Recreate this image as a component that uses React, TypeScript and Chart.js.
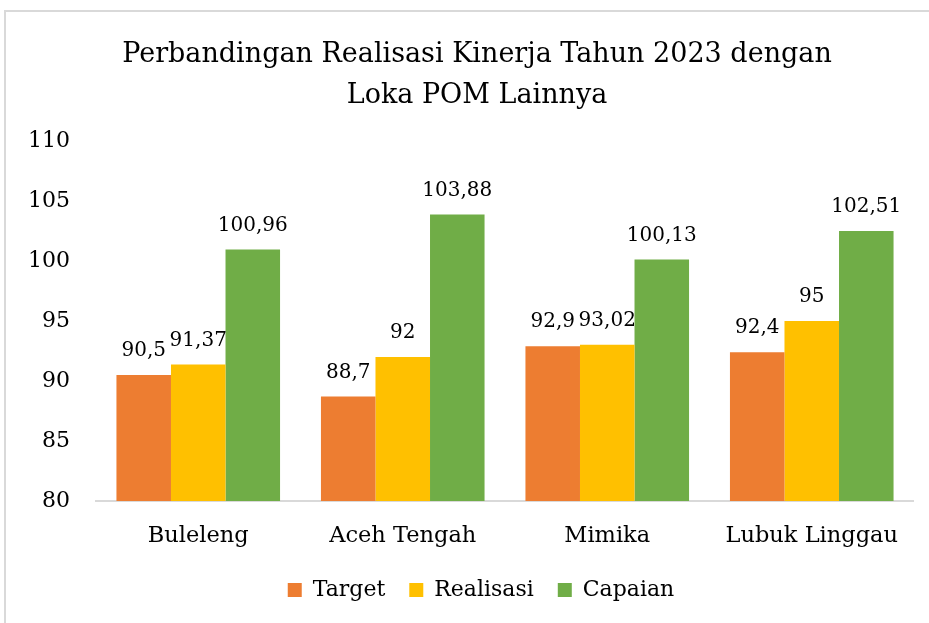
import React, { useEffect, useRef } from "react";
import { Chart, registerables } from "chart.js";

Chart.register(...registerables);

const categories = ["Buleleng", "Aceh Tengah", "Mimika", "Lubuk Linggau"];
const targetValues = [90.5, 88.7, 92.9, 92.4];
const realisasiValues = [91.37, 92, 93.02, 95];
const capaianValues = [100.96, 103.88, 100.13, 102.51];
const titleLines = ["Perbandingan Realisasi Kinerja Tahun 2023 dengan", "Loka POM Lainnya"];

const FONT = "'DejaVu Serif', serif";

const labelPlugin = {
  id: "barValueLabels",
  afterDatasetsDraw(chart: any) {
    const ctx = chart.ctx;
    ctx.save();
    ctx.font = `20px ${FONT}`;
    ctx.fillStyle = "#000";
    ctx.textAlign = "center";
    ctx.textBaseline = "bottom";
    chart.data.datasets.forEach((ds: any, di: number) => {
      const meta = chart.getDatasetMeta(di);
      meta.data.forEach((bar: any, i: number) => {
        const v = ds.data[i];
        const txt = String(v).replace(".", ",");
        ctx.fillText(txt, bar.x, bar.y - 14);
      });
    });
    ctx.restore();
  },
};

// shift the title and legend boxes so they centre on the whole chart frame
const centerPlugin = {
  id: "centerBoxes",
  afterLayout(chart: any) {
    if (chart.titleBlock) chart.titleBlock.left += 35;
    if (chart.legend) chart.legend.left += 43;
  },
};

export default function App() {
  const ref = useRef<HTMLCanvasElement>(null);
  useEffect(() => {
    if (!ref.current) return;
    const chart = new Chart(ref.current, {
      type: "bar",
      data: {
        labels: categories,
        datasets: [
          { label: "Target", data: targetValues, backgroundColor: "#ED7D31" },
          { label: "Realisasi", data: realisasiValues, backgroundColor: "#FFC000" },
          { label: "Capaian", data: capaianValues, backgroundColor: "#70AD47" },
        ],
      },
      options: {
        animation: false,
        responsive: false,
        maintainAspectRatio: false,
        layout: { padding: { left: 0, right: 0, top: 0, bottom: 12 } },
        datasets: { bar: { categoryPercentage: 0.8, barPercentage: 1.0 } } as any,
        plugins: {
          title: {
            display: true,
            text: titleLines,
            color: "#000",
            font: { family: FONT, size: 27, weight: "normal" as any, lineHeight: 1.52 },
            padding: { top: 23, bottom: 25 },
          },
          legend: {
            position: "bottom",
            labels: {
              color: "#000",
              font: { family: FONT, size: 22 },
              boxWidth: 14,
              boxHeight: 14,
              padding: 24,
            },
          },
          tooltip: { enabled: false },
        },
        scales: {
          x: {
            grid: { display: false },
            border: { display: true, color: "#d9d9d9", width: 2 },
            ticks: { color: "#000", font: { family: FONT, size: 22.5 }, padding: 14 },
            afterFit(scale: any) {
              scale.height = scale.height - 9;
            },
          },
          y: {
            min: 80,
            max: 110,
            grid: { display: false },
            border: { display: false },
            ticks: { stepSize: 5, color: "#000", font: { family: FONT, size: 22 }, padding: 18 },
            afterFit(scale: any) {
              scale.width = 91;
            },
          },
        },
      },
      plugins: [labelPlugin, centerPlugin],
    });
    return () => chart.destroy();
  }, []);
  return (
    <div style={{ position: "fixed", left: 0, top: 0, width: 929, height: 623, overflow: "hidden", background: "#fff" }}>
      <div
        style={{
          position: "absolute",
          left: 4,
          top: 10,
          width: 1000,
          height: 700,
          border: "2px solid #d9d9d9",
          boxSizing: "border-box",
        }}
      />
      <canvas
        ref={ref}
        width={909}
        height={612}
        style={{ position: "absolute", left: 5, top: 11, width: 909, height: 612 }}
      />
    </div>
  );
}
